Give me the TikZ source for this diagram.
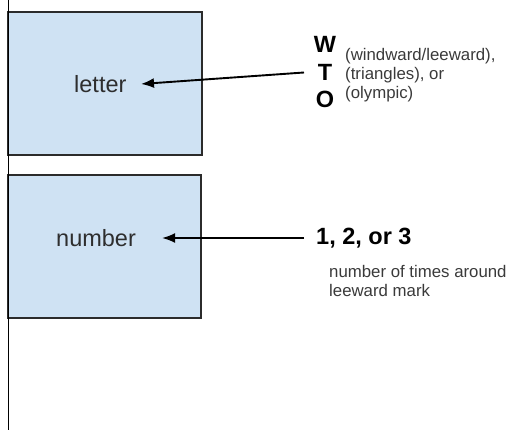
\documentclass[tikz,border=0pt]{standalone}
\usepackage{fontspec}
\setmainfont{Liberation Sans}
\usetikzlibrary{arrows.meta}
\definecolor{boxfill}{HTML}{CFE2F3}
\definecolor{boxline}{HTML}{2B2B2B}
\definecolor{txt}{HTML}{2E2E2E}
\definecolor{smalltxtc}{HTML}{3A3A3A}
\begin{document}
\begin{tikzpicture}[x=1pt,y=-1pt,
  fieldbox/.style={draw=boxline,fill=boxfill,line width=1.6pt,inner sep=0pt},
  biglabel/.style={inner sep=0pt,anchor=base west,text=txt,font=\fontsize{23.5}{26}\selectfont},
  bigbold/.style={inner sep=0pt,text=black,font=\fontsize{23.5}{26}\selectfont\bfseries},
  smalltxt/.style={inner sep=0pt,anchor=base west,text=smalltxtc,font=\fontsize{16.8}{19}\selectfont},
  pointer/.style={draw=black,line width=1.9pt,-{Latex[length=13pt,width=10pt]}}
]
\useasboundingbox (0,0) rectangle (507,430);
% boxes
\path[fieldbox] (8,12) rectangle (202,155);
\path[fieldbox] (8,175) rectangle (201,318);
\draw[line width=1.8pt,black] (8.5,0) -- (8.5,430);
% box labels
\node[biglabel] (letter) at (74,93) {letter};
\node[biglabel] (number) at (56,247) {number};
% W T O
\node[bigbold,anchor=base] (w) at (325,53) {W};
\node[bigbold,anchor=base] (t) at (325,81) {T};
\node[bigbold,anchor=base] (o) at (325,108) {O};
\node[smalltxt] (l1) at (345,61) {(windward/leeward),};
\node[smalltxt] (l2) at (345,80) {(triangles), or};
\node[smalltxt] (l3) at (345,99) {(olympic)};
% 1,2,3
\node[bigbold,anchor=base west] (n123) at (316,245) {1, 2, or 3};
\node[smalltxt] (d1) at (329,278) {number of times around};
\node[smalltxt] (d2) at (329,297) {leeward mark};
% arrows
\coordinate (a1s) at (304,72.5);
\coordinate (a1e) at (141,84);
\coordinate (a2s) at (304,238);
\coordinate (a2e) at (162,238);
\draw[pointer] (a1s) -- (a1e);
\draw[pointer] (a2s) -- (a2e);
\end{tikzpicture}
\end{document}
